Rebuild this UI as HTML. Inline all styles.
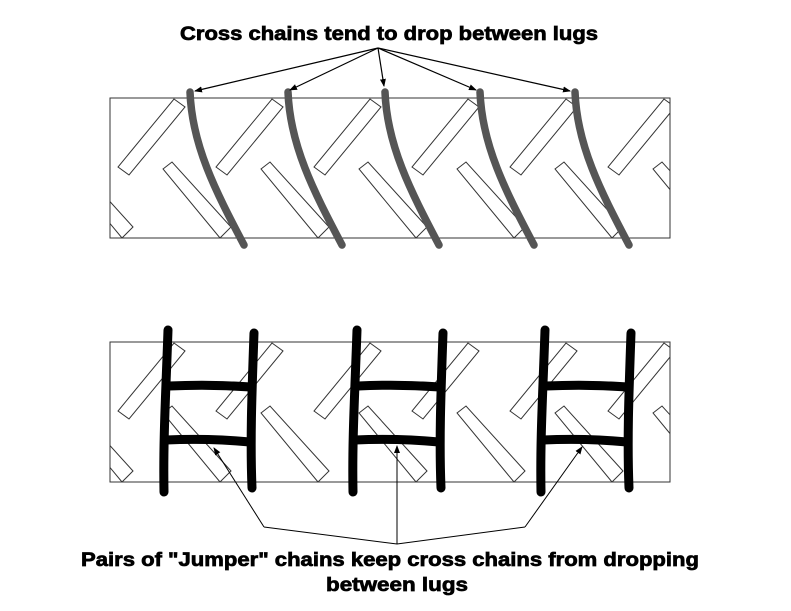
<!DOCTYPE html>
<html><head><style>body{margin:0;background:#fff}svg{display:block}</style></head><body>
<svg width="791" height="611" viewBox="0 0 791 611" xmlns="http://www.w3.org/2000/svg">
<defs>
<marker id="a" markerWidth="8" markerHeight="8" refX="7" refY="4" orient="auto" markerUnits="userSpaceOnUse"><path d="M0,1 L8,4 L0,7 z" fill="#000"/></marker>
<clipPath id="c1"><rect x="110" y="98" width="560" height="140"/></clipPath>
<clipPath id="c2"><rect x="110" y="342" width="560" height="140"/></clipPath>
<g id="lugs" fill="none" stroke="#333" stroke-width="1">
<g id="p">
<path d="M118,167 L129,175 L185,107 L174,99 Z"/>
<path d="M163,169 L172,162 L231,227 L220,238 Z"/>
</g>
<use href="#p" x="-98"/><use href="#p" x="98"/><use href="#p" x="196"/><use href="#p" x="294"/><use href="#p" x="392"/><use href="#p" x="490"/>
</g>
</defs>
<rect x="110" y="98" width="560" height="140" fill="none" stroke="#333" stroke-width="1"/>
<g clip-path="url(#c1)"><use href="#lugs"/></g>
<rect x="110" y="342" width="560" height="140" fill="none" stroke="#333" stroke-width="1"/>
<g clip-path="url(#c2)"><use href="#lugs" y="244"/></g>
<g fill="none" stroke="#555" stroke-width="7.5" stroke-linecap="round">
<path id="ch" d="M190,92 C192,145 215,190 244,245"/>
<use href="#ch" x="98"/><use href="#ch" x="195"/><use href="#ch" x="290"/><use href="#ch" x="385"/>
</g>
<g stroke="#000" stroke-width="1.2" fill="none" marker-end="url(#a)">
<line x1="378" y1="48" x2="195" y2="91"/>
<line x1="378" y1="48" x2="290" y2="90"/>
<line x1="378" y1="48" x2="384" y2="86"/>
<line x1="378" y1="48" x2="476" y2="90"/>
<line x1="378" y1="48" x2="570" y2="91"/>
</g>
<g fill="none" stroke="#000" stroke-width="9" stroke-linecap="round">
<g id="ld">
<path d="M168,330 C166,390 163,440 164,492"/>
<path d="M254,333 C252,390 250,440 252,488"/>
<path d="M169,386 Q210,384 251,387"/>
<path d="M166,440 Q208,438 250,442"/>
</g>
<use href="#ld" x="189"/><use href="#ld" x="377"/>
</g>
<g stroke="#000" stroke-width="1" fill="none">
<polyline points="264,527 397,544 525,527"/>
<line x1="264" y1="527" x2="214" y2="448" marker-end="url(#a)"/>
<line x1="397" y1="544" x2="397" y2="446" marker-end="url(#a)"/>
<line x1="525" y1="527" x2="582" y2="447" marker-end="url(#a)"/>
</g>
<g font-family="Liberation Sans, sans-serif" font-weight="bold" font-size="19" fill="#000" stroke="#000" stroke-width="0.7">
<text x="180" y="40" textLength="418" lengthAdjust="spacingAndGlyphs">Cross chains tend to drop between lugs</text>
<text x="81" y="566" textLength="618" lengthAdjust="spacingAndGlyphs">Pairs of "Jumper" chains keep cross chains from dropping</text>
<text x="326" y="591" textLength="142" lengthAdjust="spacingAndGlyphs">between lugs</text>
</g>
</svg>
</body></html>
